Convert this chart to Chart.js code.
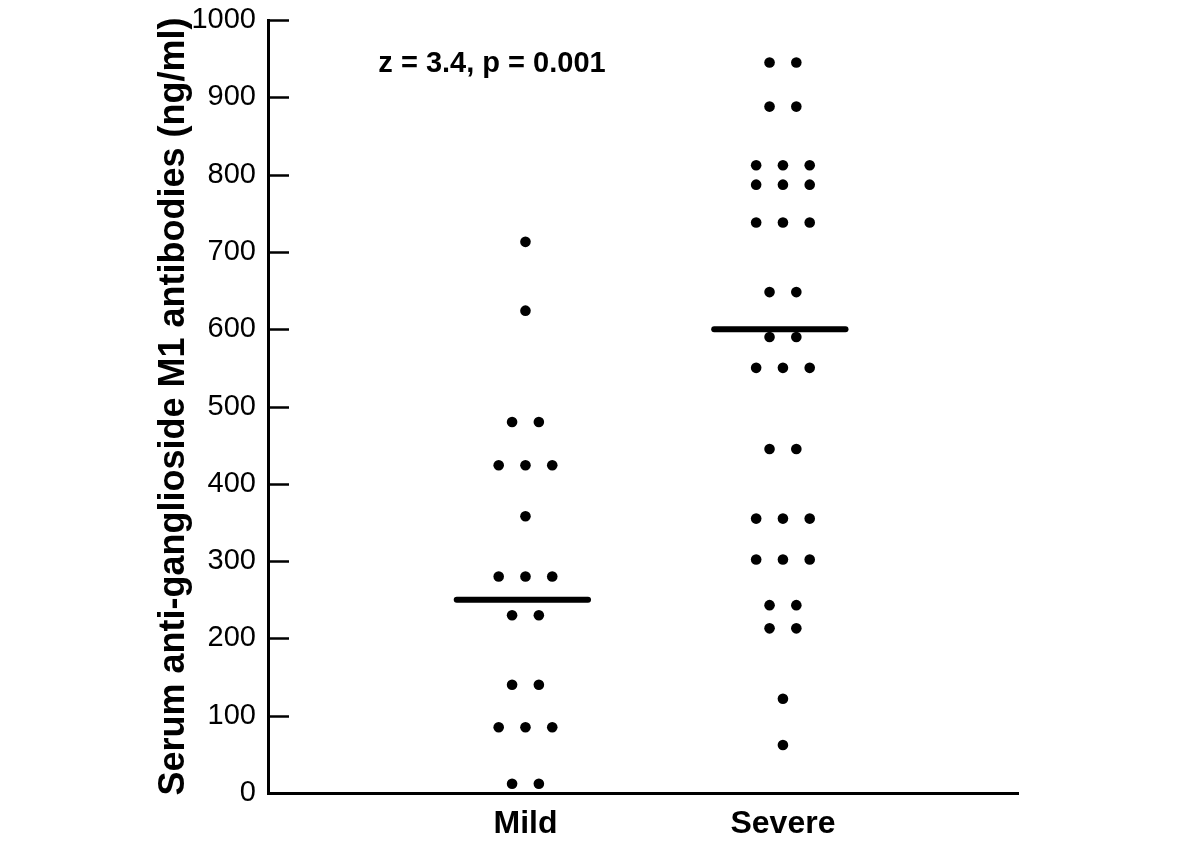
<!DOCTYPE html>
<html lang="en">
<head>
<meta charset="UTF-8">
<title>Serum anti-GM1 antibodies - mild vs severe</title>
<script src="https://cdn.jsdelivr.net/npm/chart.js@4.4.1/dist/chart.umd.min.js"></script>
<style>
  html, body { margin: 0; padding: 0; background: #fff; }
</style>
</head>
<body>
<canvas id="chart" width="1200" height="849"></canvas>
<script>
// groups on the x axis
var categories = ['Mild', 'Severe'];

// one entry per patient (ng/ml)
var mildValues = [713, 624, 480, 480, 424, 424, 424, 358, 280, 280, 280,
                  230, 230, 140, 140, 85, 85, 85, 12, 12];
var severeValues = [945, 945, 888, 888, 812, 812, 812, 787, 787, 787,
                    738, 738, 738, 648, 648, 590, 590, 550, 550, 550,
                    445, 445, 355, 355, 355, 302, 302, 302, 243, 243,
                    213, 213, 122, 62];

// group medians (horizontal bars)
var medians = [250, 600];

var yTicks = [0, 100, 200, 300, 400, 500, 600, 700, 800, 900, 1000];
var statText = 'z = 3.4, p = 0.001';
var yTitle = 'Serum anti-ganglioside M1 antibodies (ng/ml)';

var FONT = "'Liberation Sans', Arial, sans-serif";

// tied values sit side by side in a row, centred on the group
function spread(values, center) {
  var counts = {}, seen = {};
  values.forEach(function (v) { counts[v] = (counts[v] || 0) + 1 });
  return values.map(function (v) {
    var i = seen[v] || 0
    seen[v] = i + 1
    return { x: center + (i - (counts[v] - 1) / 2) * 0.104, y: v }
  });
}

function medianLine(i) {
  var c = i + 1 - 0.012;
  return [{ x: c - 0.255, y: medians[i] }, { x: c + 0.255, y: medians[i] }];
}

var dotStyle = {
  type: 'scatter',
  pointRadius: 5.3,
  pointHoverRadius: 5.3,
  pointBackgroundColor: '#000',
  pointBorderWidth: 0,
  showLine: false
};
var lineStyle = {
  type: 'line',
  borderColor: '#000',
  borderWidth: 6,
  borderCapStyle: 'round',
  pointRadius: 0,
  fill: false
};

var datasets = [];
[mildValues, severeValues].forEach(function (vals, i) {
  datasets.push(Object.assign({ label: categories[i], data: spread(vals, i + 1) }, dotStyle));
  datasets.push(Object.assign({ label: categories[i] + ' median', data: medianLine(i) }, lineStyle));
});

// ticks point into the plot, plus the test statistic text
var extras = {
  id: 'extras',
  afterDraw: function (chart) {
    var ctx = chart.ctx, ys = chart.scales.y, xs = chart.scales.x;
    var left = chart.chartArea.left;
    ctx.save();
    ctx.strokeStyle = '#000';
    ctx.lineWidth = 2.5;
    yTicks.forEach(function (v) {
      var py = Math.round(ys.getPixelForValue(v)) + 0.5;
      ctx.beginPath();
      ctx.moveTo(left, py);
      ctx.lineTo(left + 21, py);
      ctx.stroke();
    });
    ctx.fillStyle = '#000';
    ctx.font = 'bold 29px ' + FONT;
    ctx.textAlign = 'center';
    ctx.textBaseline = 'middle';
    ctx.fillText(statText, xs.getPixelForValue(0.87), ys.getPixelForValue(943));
    ctx.restore();
  }
};

var ctx = document.getElementById('chart').getContext('2d');
var chart = new Chart(ctx, {
  data: { datasets: datasets },
  options: {
    responsive: false,
    animation: false,
    layout: { padding: { top: 20, right: 182, left: 0, bottom: 0 } },
    plugins: { legend: { display: false }, tooltip: { enabled: false } },
    scales: {
      x: {
        type: 'linear',
        min: 0,
        max: 2.913,
        afterBuildTicks: function (s) { s.ticks = [{ value: 1 }, { value: 2 }] },
        afterFit: function (s) { s.height = 56; s.paddingLeft = 0; s.paddingRight = 0 },
        grid: { display: false, drawTicks: false },
        border: { display: true, color: '#000', width: 3 },
        ticks: {
          padding: 12,
          color: '#000',
          maxRotation: 0,
          autoSkip: false,
          font: { family: FONT, size: 32, weight: 'bold' },
          callback: function (v) { return categories[v - 1] }
        }
      },
      y: {
        min: 0,
        max: 1000,
        afterBuildTicks: function (s) { s.ticks = yTicks.map(function (v) { return { value: v } }) },
        afterFit: function (s) { s.width = 268; s.paddingTop = 0; s.paddingBottom = 0 },
        grid: { display: false, drawTicks: false },
        border: { display: true, color: '#000', width: 3 },
        ticks: {
          padding: 12,
          color: '#000',
          font: { family: FONT, size: 29 },
          callback: function (v) { return String(v) }
        },
        title: {
          display: true,
          text: yTitle,
          color: '#000',
          font: { family: FONT, size: 36, weight: 'bold' },
          padding: { top: 152, bottom: 0 }
        }
      }
    }
  },
  plugins: [extras]
});
</script>
</body>
</html>
